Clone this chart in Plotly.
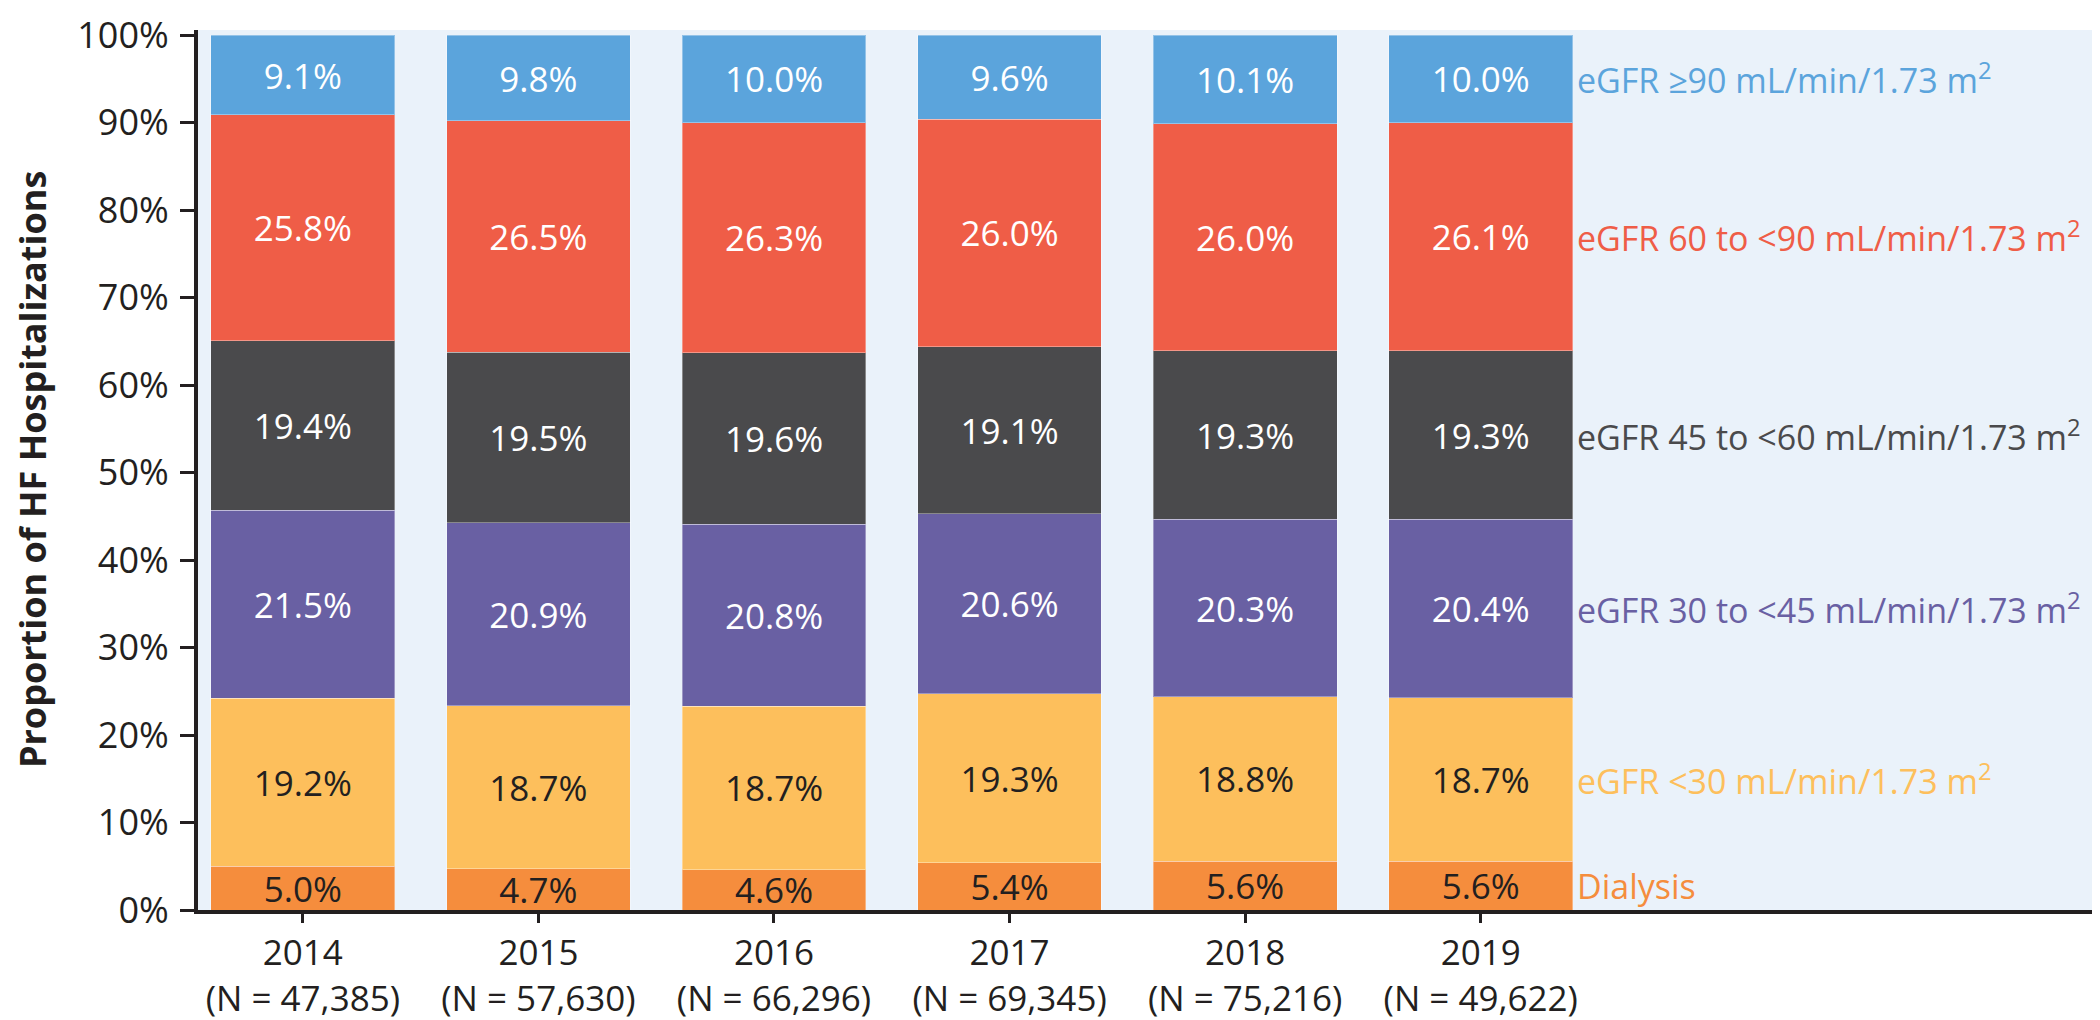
import plotly.graph_objects as go

years = ["2014", "2015", "2016", "2017", "2018", "2019"]
n_labels = ["47,385", "57,630", "66,296", "69,345", "75,216", "49,622"]

series_names = [
    "Dialysis",
    "eGFR <30 mL/min/1.73 m<sup>2</sup>",
    "eGFR 30 to <45 mL/min/1.73 m<sup>2</sup>",
    "eGFR 45 to <60 mL/min/1.73 m<sup>2</sup>",
    "eGFR 60 to <90 mL/min/1.73 m<sup>2</sup>",
    "eGFR ≥90 mL/min/1.73 m<sup>2</sup>",
]
dialysis = [5.0, 4.7, 4.6, 5.4, 5.6, 5.6]
egfr_lt30 = [19.2, 18.7, 18.7, 19.3, 18.8, 18.7]
egfr_30_45 = [21.5, 20.9, 20.8, 20.6, 20.3, 20.4]
egfr_45_60 = [19.4, 19.5, 19.6, 19.1, 19.3, 19.3]
egfr_60_90 = [25.8, 26.5, 26.3, 26.0, 26.0, 26.1]
egfr_ge90 = [9.1, 9.8, 10.0, 9.6, 10.1, 10.0]

series_values = [dialysis, egfr_lt30, egfr_30_45, egfr_45_60, egfr_60_90, egfr_ge90]
colors = ["#F58D3D", "#FDBF5C", "#6960A3", "#4A4A4C", "#EF5D47", "#5BA4DC"]
text_colors = ["#231F20", "#231F20", "#FFFFFF", "#FFFFFF", "#FFFFFF", "#FFFFFF"]

FONT = "Open Sans"
BAR_TXT = 35
DARK = "#231F20"

fig = go.Figure()
for name, vals, col, tcol in zip(series_names, series_values, colors, text_colors):
    fig.add_trace(go.Bar(
        x=years, y=vals, name=name,
        marker=dict(color=col, line=dict(color="rgba(255,255,255,0.35)", width=1)),
        text=vals, texttemplate="%{text:.1f}%",
        textposition="inside", insidetextanchor="middle", textangle=0,
        textfont=dict(color=tcol, size=BAR_TXT, family=FONT),
        constraintext="none",
        showlegend=False,
    ))

# Right-side labels at the midpoint of each segment of the last bar
last = [v[-1] for v in series_values]
total = sum(last)
cum = 0
annotations = []
for name, v, col in zip(series_names, last, colors):
    mid = (cum + v / 2) / total * 100
    cum += v
    annotations.append(dict(
        x=5.40, y=mid, xref="x", yref="y", text=name, showarrow=False,
        xanchor="left", yanchor="middle",
        font=dict(color=col, size=34, family=FONT),
    ))

annotations.append(dict(
    x=-0.087, y=0.5, xref="paper", yref="paper",
    text="<b>Proportion of HF Hospitalizations</b>", showarrow=False,
    textangle=-90, xanchor="center", yanchor="middle",
    font=dict(color=DARK, size=36, family=FONT),
))

fig.update_layout(
    width=2100, height=1020,
    barmode="stack", barnorm="percent", bargap=0.22,
    plot_bgcolor="#EAF2FA", paper_bgcolor="white",
    margin=dict(l=190, r=3, t=22, b=118, autoexpand=False),
    annotations=annotations,
    uniformtext=dict(minsize=BAR_TXT, mode="show"),
    font=dict(family=FONT, color=DARK),
)
fig.update_xaxes(
    type="category", range=[-0.445, 7.65],
    tickvals=years,
    ticktext=[f"{y}<br>(N = {n})" for y, n in zip(years, n_labels)],
    tickfont=dict(size=35, family=FONT, color=DARK),
    ticks="outside", ticklen=9, tickwidth=3, tickcolor=DARK,
    ticklabelstandoff=0, automargin=False,
    showline=True, linecolor=DARK, linewidth=4,
    showgrid=False, zeroline=False,
)
fig.update_yaxes(
    range=[0, 100.6],
    tickvals=[0, 10, 20, 30, 40, 50, 60, 70, 80, 90, 100],
    ticktext=[f"{v}%" for v in range(0, 101, 10)],
    tickfont=dict(size=36, family=FONT, color=DARK),
    ticks="outside", ticklen=14, tickwidth=3, tickcolor=DARK,
    ticklabelstandoff=4, ticklabeloverflow="allow", automargin=False,
    showline=True, linecolor=DARK, linewidth=4,
    showgrid=False, zeroline=False,
)

fig.write_html("out.html")
